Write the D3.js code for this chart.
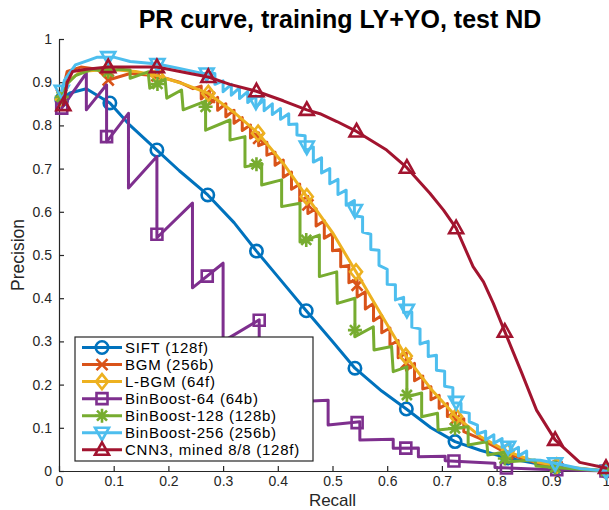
<!DOCTYPE html>
<html><head><meta charset="utf-8">
<script src="https://cdn.jsdelivr.net/npm/d3@7"></script>
<style>
body{margin:0;background:#fff}
svg{display:block}
text{font-family:"Liberation Sans",Arial,Helvetica,sans-serif}
</style>
</head><body>
<svg id="chart" width="609" height="510"></svg>
<script>
// ---------------- DATA ----------------
const titleText = "PR curve, training LY+YO, test ND";
const xLabel = "Recall";
const yLabel = "Precision";
const xTicks = [0,0.1,0.2,0.3,0.4,0.5,0.6,0.7,0.8,0.9,1];
const xTickLabels = ["0","0.1","0.2","0.3","0.4","0.5","0.6","0.7","0.8","0.9","1"];
const yTicks = [0,0.1,0.2,0.3,0.4,0.5,0.6,0.7,0.8,0.9,1];
const yTickLabels = ["0","0.1","0.2","0.3","0.4","0.5","0.6","0.7","0.8","0.9","1"];

const seriesNames = ["SIFT (128f)","BGM (256b)","L-BGM (64f)","BinBoost-64 (64b)","BinBoost-128 (128b)","BinBoost-256 (256b)","CNN3, mined 8/8 (128f)"];
const seriesColors = ["#0072BD","#D95319","#EDB120","#7E2F8E","#77AC30","#4DBEEE","#A2142F"];
const seriesMarkers = ["circle","x","diamond","square","asterisk","triangleDown","triangleUp"];

// SIFT (128f)
const siftCurve = [[0.005,0.86],[0.02,0.875],[0.05,0.885],[0.093,0.852],[0.13,0.80],[0.179,0.743],[0.22,0.695],[0.272,0.639],[0.32,0.575],[0.361,0.509],[0.40,0.45],[0.452,0.371],[0.50,0.30],[0.541,0.238],[0.59,0.185],[0.635,0.1435],[0.68,0.10],[0.724,0.068],[0.77,0.048],[0.82,0.030],[0.87,0.018],[0.91,0.010],[0.96,0.004],[1.0,0.0]];
const siftMarks = [[0.005,0.86],[0.093,0.852],[0.179,0.743],[0.272,0.639],[0.361,0.509],[0.452,0.371],[0.541,0.238],[0.635,0.1435],[0.724,0.068],[0.82,0.030],[0.91,0.010],[1.0,0.0]];

// BGM (256b)
const bgmCurve = [[0.005,0.87],[0.015,0.925],[0.04,0.935],[0.07,0.93],[0.09,0.905],[0.13,0.92],[0.179,0.915],[0.22,0.90],[0.245,0.885],
 [0.26,0.891],[0.26,0.861],[0.275,0.880],[0.275,0.850],[0.29,0.865],[0.29,0.835],[0.305,0.850],[0.305,0.820],[0.32,0.835],[0.32,0.805],
 [0.335,0.818],[0.335,0.788],[0.35,0.801],[0.35,0.771],[0.365,0.783],[0.365,0.753],[0.38,0.761],[0.38,0.731],[0.395,0.738],[0.395,0.708],
 [0.41,0.72],[0.41,0.68],[0.425,0.692],[0.425,0.652],[0.44,0.664],[0.44,0.624],[0.455,0.636],[0.455,0.596],[0.47,0.607],[0.47,0.567],
 [0.485,0.579],[0.485,0.539],[0.50,0.55],[0.50,0.51],[0.515,0.513],[0.515,0.473],[0.53,0.476],[0.53,0.436],[0.545,0.443],[0.545,0.403],
 [0.56,0.415],[0.56,0.375],[0.575,0.388],[0.575,0.348],[0.59,0.36],[0.59,0.32],[0.605,0.331],[0.605,0.291],[0.62,0.302],[0.62,0.262],
 [0.635,0.273],[0.635,0.233],[0.65,0.249],[0.65,0.209],[0.665,0.22],[0.665,0.19],[0.68,0.195],[0.68,0.165],[0.695,0.175],[0.695,0.145],
 [0.71,0.156],[0.71,0.126],[0.725,0.136],[0.725,0.106],[0.74,0.121],[0.74,0.091],
 [0.77,0.075],[0.82,0.04],[0.87,0.02],[0.91,0.01],[1.0,0.0]];
const bgmMarks = [[0.005,0.87],[0.09,0.905],[0.179,0.915],[0.275,0.865],[0.365,0.77],[0.455,0.616],[0.545,0.43],[0.635,0.25],[0.725,0.12],[0.82,0.04],[0.91,0.01],[1.0,0.0]];

// L-BGM (64f)
const lbgmCurve = [[0.005,0.86],[0.015,0.90],[0.04,0.925],[0.09,0.93],[0.14,0.925],[0.18,0.915],[0.23,0.895],[0.273,0.874],[0.32,0.83],[0.364,0.782],[0.41,0.712],[0.453,0.635],[0.50,0.552],[0.543,0.461],[0.59,0.36],[0.634,0.266],[0.68,0.19],[0.726,0.126],[0.77,0.08],[0.82,0.045],[0.87,0.022],[0.91,0.012],[0.96,0.005],[1.0,0.0]];
const lbgmMarks = [[0.005,0.86],[0.09,0.93],[0.18,0.915],[0.273,0.874],[0.364,0.782],[0.453,0.635],[0.543,0.461],[0.634,0.266],[0.726,0.126],[0.82,0.045],[0.91,0.012],[1.0,0.0]];

// BinBoost-64 (64b)
const bb64Curve = [[0.005,0.84],[0.05,0.921],[0.05,0.836],[0.087,0.894],[0.087,0.762],[0.127,0.828],[0.127,0.655],[0.179,0.728],[0.179,0.54],
 [0.244,0.62],[0.244,0.424],[0.30,0.481],[0.30,0.30],[0.366,0.35],[0.366,0.15],[0.42,0.16],[0.492,0.164],[0.492,0.1065],[0.55,0.114],
 [0.55,0.0718],[0.611,0.0734],[0.611,0.0525],[0.657,0.053],[0.657,0.0331],[0.706,0.034],[0.706,0.0238],[0.797,0.0178],[0.797,0.008],
 [0.88,0.004],[1.0,0.0]];
const bb64Marks = [[0.005,0.84],[0.087,0.774],[0.179,0.548],[0.271,0.451],[0.366,0.349],[0.45,0.16],[0.545,0.112],[0.634,0.053],[0.722,0.023],[0.818,0.007],[0.91,0.003],[1.0,0.0]];

// BinBoost-128 (128b)
const bb128Curve = [[0.005,0.86],[0.01,0.89],[0.03,0.915],[0.06,0.93],[0.09,0.924],[0.11,0.93],[0.13,0.928],[0.13,0.909],[0.163,0.924],
 [0.166,0.886],[0.194,0.907],[0.197,0.863],[0.224,0.882],[0.227,0.836],[0.268,0.856],[0.268,0.789],[0.3126,0.8125],[0.3126,0.766],
 [0.340,0.774],[0.340,0.704],[0.3705,0.712],[0.3705,0.662],[0.407,0.674],[0.407,0.612],[0.4406,0.620],[0.4406,0.53],[0.476,0.546],
 [0.476,0.450],[0.5077,0.461],[0.5088,0.388],[0.541,0.400],[0.541,0.311],[0.5746,0.334],[0.5759,0.280],[0.608,0.288],[0.611,0.230],
 [0.636,0.241],[0.636,0.172],[0.663,0.1806],[0.663,0.1257],[0.692,0.1336],[0.693,0.0949],[0.748,0.1025],[0.748,0.060],[0.782,0.0678],
 [0.784,0.037],[0.815,0.044],[0.817,0.021],[0.870,0.0255],[0.872,0.0116],[0.907,0.008],[0.95,0.004],[1.0,0.0]];
const bb128Marks = [[0.005,0.866],[0.09,0.924],[0.18,0.896],[0.268,0.843],[0.361,0.71],[0.452,0.535],[0.541,0.326],[0.636,0.176],[0.724,0.099],[0.815,0.029],[0.907,0.008],[1.0,0.0]];

// BinBoost-256 (256b)
const bb256Curve = [[0.005,0.88],[0.01,0.905],[0.03,0.94],[0.055,0.951],[0.07,0.958],[0.1,0.958],[0.13,0.948],[0.18,0.942],[0.22,0.932],[0.26,0.921],
 [0.285,0.92],[0.285,0.895],[0.30,0.903],[0.30,0.878],[0.315,0.895],[0.315,0.87],[0.33,0.887],[0.33,0.862],[0.345,0.878],[0.345,0.853],
 [0.36,0.868],[0.36,0.843],[0.375,0.859],[0.375,0.834],[0.39,0.85],[0.39,0.825],[0.405,0.839],[0.405,0.814],[0.42,0.827],[0.42,0.802],
 [0.435,0.803],[0.435,0.778],[0.45,0.776],[0.45,0.741],[0.465,0.75],[0.465,0.715],[0.48,0.725],[0.48,0.69],[0.495,0.70],[0.495,0.665],
 [0.51,0.675],[0.51,0.64],[0.525,0.65],[0.525,0.615],[0.54,0.626],[0.54,0.591],[0.555,0.588],[0.555,0.553],[0.57,0.548],[0.57,0.513],
 [0.585,0.511],[0.585,0.476],[0.60,0.467],[0.60,0.432],[0.615,0.431],[0.615,0.396],[0.63,0.402],[0.63,0.367],[0.645,0.368],[0.645,0.333],
 [0.66,0.329],[0.66,0.294],[0.675,0.30],[0.675,0.265],[0.69,0.268],[0.69,0.233],[0.705,0.231],[0.705,0.196],[0.72,0.193],[0.72,0.158],
 [0.735,0.157],[0.735,0.137],[0.75,0.134],[0.75,0.114],[0.765,0.106],[0.765,0.086],[0.78,0.092],[0.78,0.072],[0.795,0.084],[0.795,0.064],
 [0.81,0.075],[0.81,0.055],[0.825,0.064],[0.825,0.044],[0.84,0.055],[0.84,0.035],[0.855,0.046],[0.855,0.026],
 [0.88,0.025],[0.907,0.018],[0.952,0.006],[1.0,0.0]];
const bb256Marks = [[0.005,0.88],[0.09,0.958],[0.18,0.942],[0.27,0.92],[0.36,0.855],[0.453,0.751],[0.541,0.604],[0.636,0.373],[0.726,0.16],[0.821,0.056],[0.907,0.018],[1.0,0.0]];

// CNN3, mined 8/8 (128f)
const cnnCurve = [[0.008,0.847],[0.015,0.90],[0.025,0.925],[0.05,0.93],[0.09,0.935],[0.179,0.935],[0.2395,0.92],[0.273,0.912],[0.3126,0.895],
 [0.361,0.879],[0.41,0.857],[0.453,0.836],[0.477,0.827],[0.508,0.809],[0.544,0.786],[0.599,0.743],[0.636,0.702],[0.678,0.643],[0.703,0.604],
 [0.726,0.562],[0.757,0.473],[0.776,0.438],[0.794,0.388],[0.815,0.3225],[0.845,0.23],[0.873,0.141],[0.907,0.072],[0.952,0.02],[1.0,0.007]];
const cnnMarks = [[0.008,0.847],[0.09,0.935],[0.179,0.935],[0.273,0.912],[0.361,0.879],[0.453,0.836],[0.544,0.786],[0.636,0.702],[0.726,0.562],[0.815,0.3225],[0.907,0.072],[1.0,0.007]];

const curves = [siftCurve,bgmCurve,lbgmCurve,bb64Curve,bb128Curve,bb256Curve,cnnCurve];
const marks = [siftMarks,bgmMarks,lbgmMarks,bb64Marks,bb128Marks,bb256Marks,cnnMarks];

// ---------------- DRAW ----------------
const svg = d3.select("#chart");
const plot = {left:59, right:606, top:39, bottom:471};
const x = d3.scaleLinear().domain([0,1]).range([plot.left, plot.right]);
const y = d3.scaleLinear().domain([0,1]).range([plot.bottom, plot.top]);
const axisColor = "#262626";

function markerPath(type){
  switch(type){
    case "x": return "M-5.5,-5.5L5.5,5.5M-5.5,5.5L5.5,-5.5";
    case "diamond": return "M0,-7.5L6,0L0,7.5L-6,0Z";
    case "square": return "M-5.5,-5.5L5.5,-5.5L5.5,5.5L-5.5,5.5Z";
    case "asterisk": return "M0,-7L0,7M-7,0L7,0M-5,-5L5,5M-5,5L5,-5";
    case "triangleDown": return "M-7,-5L7,-5L0,7.5Z";
    case "triangleUp": return "M0,-7.5L7,5L-7,5Z";
  }
}
function drawMarker(g, type, color, px, py){
  if(type==="circle"){
    g.append("circle").attr("cx",px).attr("cy",py).attr("r",6.2)
      .attr("fill","none").attr("stroke",color).attr("stroke-width",2.6);
  } else {
    g.append("path").attr("d",markerPath(type)).attr("transform",`translate(${px},${py})`)
      .attr("fill","none").attr("stroke",color).attr("stroke-width",2.6).attr("stroke-linejoin","miter");
  }
}

// axes
const xAxis = d3.axisBottom(x).tickValues(xTicks).tickFormat((d,i)=>xTickLabels[i]).tickSizeInner(-5).tickSizeOuter(0).tickPadding(5);
const yAxis = d3.axisLeft(y).tickValues(yTicks).tickFormat((d,i)=>yTickLabels[i]).tickSizeInner(-5).tickSizeOuter(0).tickPadding(7);

const gx = svg.append("g").attr("transform",`translate(0,${plot.bottom})`).call(xAxis);
const gy = svg.append("g").attr("transform",`translate(${plot.left},0)`).call(yAxis);
[gx,gy].forEach(g=>{
  g.select(".domain").attr("stroke",axisColor).attr("stroke-width",1.2);
  g.selectAll(".tick line").attr("stroke",axisColor).attr("stroke-width",1.2);
  g.selectAll(".tick text").attr("fill",axisColor).style("font-size","14px")
   .style("font-family",'"Liberation Sans",Arial,sans-serif');
});

// curves
const line = d3.line().x(d=>x(d[0])).y(d=>y(d[1]));
const curvesG = svg.append("g");
curves.forEach((c,i)=>{
  const g = curvesG.append("g");
  g.append("path").attr("d",line(c)).attr("fill","none").attr("stroke",seriesColors[i])
    .attr("stroke-width",3).attr("stroke-linejoin","round").attr("stroke-linecap","round");
  marks[i].forEach(m=>drawMarker(g, seriesMarkers[i], seriesColors[i], x(m[0]), y(m[1])));
});

// legend
const leg = {x:75, y:337, w:238, h:124, rowH:17.05, firstRow:347.5};
const lg = svg.append("g");
lg.append("rect").attr("x",leg.x).attr("y",leg.y).attr("width",leg.w).attr("height",leg.h)
  .attr("fill","#fff").attr("stroke",axisColor).attr("stroke-width",1.2);
seriesNames.forEach((n,i)=>{
  const cy = leg.firstRow + i*leg.rowH;
  lg.append("line").attr("x1",82).attr("x2",122).attr("y1",cy).attr("y2",cy)
    .attr("stroke",seriesColors[i]).attr("stroke-width",3);
  drawMarker(lg, seriesMarkers[i], seriesColors[i], 102, cy);
  lg.append("text").attr("x",125).attr("y",cy).attr("dy","0.36em").text(n)
    .style("font-size","15px").style("letter-spacing","0.75px").attr("fill","#000");
});

// labels
svg.append("text").attr("x",(plot.left+plot.right)/2).attr("y",506).attr("text-anchor","middle")
  .style("font-size","17px").attr("fill",axisColor).text(xLabel);
svg.append("text").attr("transform",`translate(24,${(plot.top+plot.bottom)/2}) rotate(-90)`).attr("text-anchor","middle")
  .style("font-size","17.5px").attr("fill",axisColor).text(yLabel);
svg.append("text").attr("x",340).attr("y",28).attr("text-anchor","middle")
  .style("font-size","25px").style("font-weight","bold").attr("fill","#000").text(titleText);
</script>
</body></html>
